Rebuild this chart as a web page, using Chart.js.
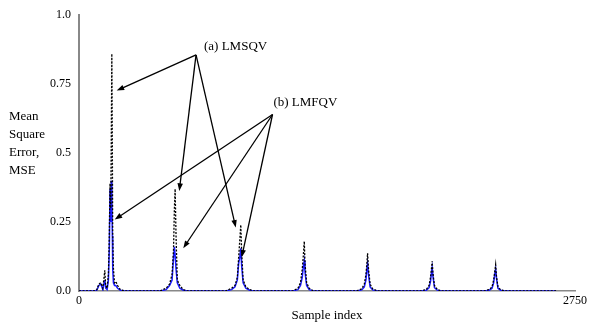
<!DOCTYPE html>
<html>
<head>
<meta charset="utf-8">
<script src="https://cdn.jsdelivr.net/npm/chart.js@4.4.1/dist/chart.umd.min.js"></script>
<style>
  html, body { margin: 0; padding: 0; background: #fff; }
  #chart { display: block; }
</style>
</head>
<body>
<canvas id="chart" width="590" height="323"></canvas>
<script>
// Sample positions (shared by both curves)
const sampleIndex = [
    0, 91, 99, 110, 121, 132, 139, 143, 148, 156, 163, 168, 172, 176, 179, 182, 185, 187, 191, 197, 204, 214, 229, 253,
    449, 483, 502, 516, 524, 529, 533, 538, 545, 559, 578, 602,
    813, 846, 865, 878, 885, 891, 897, 902, 910, 925, 946, 966,
    1185, 1214, 1228, 1238, 1244, 1249, 1253, 1262, 1276, 1300,
    1539, 1568, 1582, 1591, 1596, 1600, 1605, 1614, 1628, 1654,
    1898, 1926, 1941, 1949, 1954, 1958, 1963, 1971, 1986, 2008,
    2247, 2275, 2290, 2299, 2305, 2310, 2315, 2323, 2337, 2361,
    2645
];

// (a) LMSQV - black dotted
const lmsqv = [
    0, 0, 0.005, 0.025, 0.03, 0.01, 0.05, 0.075, 0.02, 0.01, 0.06, 0.2, 0.39, 0.3, 0.55, 0.86, 0.5, 0.2, 0.08, 0.03, 0.035, 0.02, 0.005, 0,
    0, 0.01, 0.025, 0.06, 0.15, 0.3, 0.37, 0.2, 0.04, 0.02, 0.005, 0,
    0, 0.01, 0.02, 0.05, 0.12, 0.18, 0.24, 0.14, 0.04, 0.015, 0.005, 0,
    0, 0.01, 0.03, 0.08, 0.13, 0.18, 0.1, 0.03, 0.01, 0,
    0, 0.008, 0.025, 0.06, 0.1, 0.137, 0.08, 0.025, 0.008, 0,
    0, 0.006, 0.02, 0.05, 0.08, 0.108, 0.06, 0.02, 0.006, 0,
    0, 0.005, 0.015, 0.04, 0.07, 0.095, 0.05, 0.015, 0.005, 0,
    0
];

// (b) LMFQV - blue solid
const lmfqv = [
    0, 0, 0.003, 0.02, 0.025, 0.005, 0.03, 0.04, 0.01, 0.005, 0.04, 0.15, 0.37, 0.25, 0.40, 0.33, 0.2, 0.08, 0.03, 0.02, 0.02, 0.01, 0.003, 0,
    0, 0.005, 0.02, 0.04, 0.12, 0.16, 0.13, 0.08, 0.03, 0.01, 0.003, 0,
    0, 0.005, 0.015, 0.04, 0.1, 0.12, 0.155, 0.09, 0.03, 0.01, 0.003, 0,
    0, 0.005, 0.02, 0.05, 0.09, 0.11, 0.07, 0.02, 0.005, 0,
    0, 0.004, 0.015, 0.04, 0.08, 0.1, 0.06, 0.015, 0.004, 0,
    0, 0.003, 0.012, 0.035, 0.065, 0.085, 0.05, 0.012, 0.003, 0,
    0, 0.003, 0.01, 0.03, 0.06, 0.08, 0.045, 0.01, 0.003, 0,
    0
];

const yTickValues = [0, 0.25, 0.5, 0.75, 1.0];
const yTickLabels = ['0.0', '0.25', '0.5', '0.75', '1.0'];
const xTickValues = [0, 2750];
const xTickLabels = ['0', '2750'];

// Annotation arrows, in data units: [from x, from y, to x, to y]
const labelA = { text: '(a) LMSQV', x: 693, y: 0.885 };
const arrowsA = [[649, 0.856, 209, 0.727], [649, 0.856, 556, 0.363], [649, 0.856, 869, 0.23]];
const labelB = { text: '(b) LMFQV', x: 1078, y: 0.683 };
const arrowsB = [[1073, 0.64, 198, 0.259], [1073, 0.64, 578, 0.155], [1073, 0.64, 902, 0.122]];
const yTitleLines = ['Mean', 'Square', 'Error,', 'MSE'];

const serif = '"Liberation Serif", "DejaVu Serif", serif';

function toPoints(ys) {
    return sampleIndex.map((x, i) => ({ x: x, y: ys[i] }));
}

const annotationPlugin = {
    id: 'annotations',
    afterDatasetsDraw(chart) {
        const ctx = chart.ctx;
        const xs = chart.scales.x, ys = chart.scales.y;
        ctx.save();
        ctx.strokeStyle = '#000';
        ctx.fillStyle = '#000';
        ctx.lineWidth = 1.3;
        [...arrowsA, ...arrowsB].forEach(a => {
            const x1 = xs.getPixelForValue(a[0]), y1 = ys.getPixelForValue(a[1]);
            const x2 = xs.getPixelForValue(a[2]), y2 = ys.getPixelForValue(a[3]);
            const ang = Math.atan2(y2 - y1, x2 - x1);
            ctx.beginPath();
            ctx.moveTo(x1, y1);
            ctx.lineTo(x2 - 6 * Math.cos(ang), y2 - 6 * Math.sin(ang));
            ctx.stroke();
            // arrow head
            ctx.beginPath();
            ctx.moveTo(x2, y2);
            ctx.lineTo(x2 - 8 * Math.cos(ang - 0.35), y2 - 8 * Math.sin(ang - 0.35));
            ctx.lineTo(x2 - 8 * Math.cos(ang + 0.35), y2 - 8 * Math.sin(ang + 0.35));
            ctx.closePath();
            ctx.fill();
        });
        ctx.font = '13px ' + serif;
        ctx.textBaseline = 'middle';
        ctx.textAlign = 'left';
        [labelA, labelB].forEach(l => {
            ctx.fillText(l.text, xs.getPixelForValue(l.x), ys.getPixelForValue(l.y));
        });
        // y axis title, left aligned over several lines
        yTitleLines.forEach((t, i) => {
            ctx.fillText(t, 9, 117 + i * 18);
        });
        ctx.restore();
    }
};

new Chart(document.getElementById('chart').getContext('2d'), {
    type: 'line',
    data: {
        datasets: [
            {
                label: '(a) LMSQV',
                data: toPoints(lmsqv),
                borderColor: '#000',
                borderWidth: 1.3,
                borderDash: [2, 1.5],
                pointRadius: 0,
                fill: false,
                tension: 0
            },
            {
                label: '(b) LMFQV',
                data: toPoints(lmfqv),
                borderColor: '#1a1aff',
                borderWidth: 1.5,
                pointRadius: 0,
                fill: false,
                tension: 0
            }
        ]
    },
    options: {
        responsive: false,
        animation: false,
        layout: { padding: { top: 13, right: 0, left: 0, bottom: 0 } },
        plugins: { legend: { display: false }, tooltip: { enabled: false } },
        scales: {
            x: {
                type: 'linear',
                min: 0,
                max: 2750,
                afterBuildTicks: s => { s.ticks = xTickValues.map(v => ({ value: v })); },
                afterFit: s => { s.height = 32; },
                grid: { display: false, drawTicks: false },
                border: { color: '#888', width: 1.5 },
                ticks: {
                    color: '#000',
                    font: { family: serif, size: 12 },
                    padding: 3,
                    maxRotation: 0,
                    callback: (v) => xTickLabels[xTickValues.indexOf(v)]
                },
                title: { display: true, text: 'Sample index', color: '#000', font: { family: serif, size: 13 }, padding: { top: 3, bottom: 0 } }
            },
            y: {
                min: 0,
                max: 1.0,
                afterBuildTicks: s => { s.ticks = yTickValues.map(v => ({ value: v })); },
                afterFit: s => { s.width = 79; },
                grid: { display: false, drawTicks: false },
                border: { color: '#888', width: 2 },
                ticks: {
                    color: '#000',
                    font: { family: serif, size: 12 },
                    padding: 8,
                    callback: (v) => yTickLabels[yTickValues.indexOf(v)]
                }
            }
        }
    },
    plugins: [annotationPlugin]
});
</script>
</body>
</html>
